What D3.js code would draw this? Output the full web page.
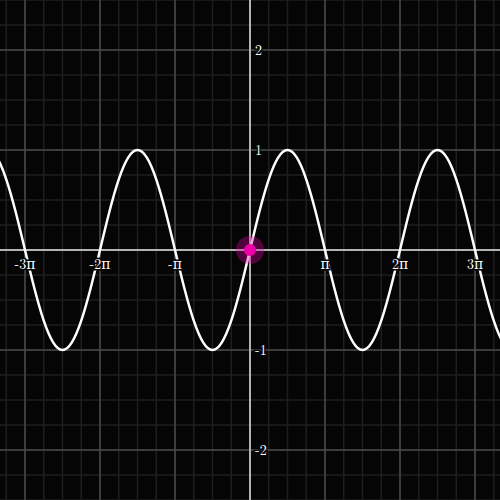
<!DOCTYPE html>
<html><head><meta charset="utf-8">
<script src="https://cdn.jsdelivr.net/npm/d3@7"></script>
<style>html,body{margin:0;padding:0;background:#050505}svg{display:block}</style>
</head><body>
<script>
// Sample points of the curve, x in multiples of π/8 (k = -28 … 28)
const xIndexEighthsPi = [-28,-27,-26,-25,-24,-23,-22,-21,-20,-19,-18,-17,-16,-15,-14,-13,-12,-11,-10,-9,-8,-7,-6,-5,-4,-3,-2,-1,0,1,2,3,4,5,6,7,8,9,10,11,12,13,14,15,16,17,18,19,20,21,22,23,24,25,26,27,28];
const yValues = [
  1,0.924,0.707,0.383,0,-0.383,-0.707,-0.924,-1,-0.924,-0.707,-0.383,0,0.383,0.707,0.924,
  1,0.924,0.707,0.383,0,-0.383,-0.707,-0.924,-1,-0.924,-0.707,-0.383,0,0.383,0.707,0.924,
  1,0.924,0.707,0.383,0,-0.383,-0.707,-0.924,-1,-0.924,-0.707,-0.383,0,0.383,0.707,0.924,
  1,0.924,0.707,0.383,0,-0.383,-0.707,-0.924,-1];
const xTickPi = [-3,-2,-1,1,2,3];
const xTickLabels = ["-3π","-2π","-π","π","2π","3π"];
const yTicks = [-2,-1,1,2];
const yTickLabels = ["-2","-1","1","2"];
const highlightPoint = {x:0, y:0};
</script>
<script>
const W = 500, H = 500, PI = Math.PI;
const xHalf = 250 / 75 * PI;
const x = d3.scaleLinear().domain([-xHalf, xHalf]).range([0, W]);
const y = d3.scaleLinear().domain([-2.5, 2.5]).range([H, 0]);

const svg = d3.select("body").append("svg").attr("width", W).attr("height", H);
svg.append("rect").attr("width", W).attr("height", H).attr("fill", "#050505");

const minorX = d3.range(-14, 15).map(k => k * PI / 4).filter(v => Math.abs(v) <= xHalf);
const majorX = d3.range(-3, 4).map(k => k * PI);
const minorY = d3.range(-10, 11).map(k => k * 0.25);
const majorY = d3.range(-2, 3);

const g = svg.append("g");
g.selectAll(".mx").data(minorX).join("line")
  .attr("x1", d => x(d)).attr("x2", d => x(d)).attr("y1", 0).attr("y2", H)
  .attr("stroke", "#1e1e1e").attr("stroke-width", 1.5);
g.selectAll(".my").data(minorY).join("line")
  .attr("y1", d => y(d)).attr("y2", d => y(d)).attr("x1", 0).attr("x2", W)
  .attr("stroke", "#1e1e1e").attr("stroke-width", 1.5);
g.selectAll(".Mx").data(majorX).join("line")
  .attr("x1", d => x(d)).attr("x2", d => x(d)).attr("y1", 0).attr("y2", H)
  .attr("stroke", "#4a4a4a").attr("stroke-width", 1.5);
g.selectAll(".My").data(majorY).join("line")
  .attr("y1", d => y(d)).attr("y2", d => y(d)).attr("x1", 0).attr("x2", W)
  .attr("stroke", "#4a4a4a").attr("stroke-width", 1.5);

// axes
svg.append("line").attr("x1", 0).attr("x2", W).attr("y1", y(0)).attr("y2", y(0))
  .attr("stroke", "#b4b4b4").attr("stroke-width", 2);
svg.append("line").attr("x1", x(0)).attr("x2", x(0)).attr("y1", 0).attr("y2", H)
  .attr("stroke", "#b4b4b4").attr("stroke-width", 2);

// curve
const pts = xIndexEighthsPi.map((k, i) => [k * PI / 8, yValues[i]]);
const line = d3.line().x(d => x(d[0])).y(d => y(d[1])).curve(d3.curveNatural);
svg.append("path").attr("d", line(pts)).attr("fill", "none")
  .attr("stroke", "#ffffff").attr("stroke-width", 2.5);

// labels
const font = "'Latin Modern Roman','DejaVu Serif','Liberation Serif',serif";
svg.selectAll(".xl").data(xTickPi).join("text")
  .attr("x", d => x(d * PI)).attr("y", y(0) + 19)
  .attr("text-anchor", "middle").attr("font-family", font).attr("font-size", 14)
  .attr("fill", "#ffffff").attr("stroke", "#050505").attr("stroke-width", 3)
  .attr("paint-order", "stroke")
  .text((d, i) => xTickLabels[i]);
svg.selectAll(".yl").data(yTicks).join("text")
  .attr("x", x(0) + 5).attr("y", d => y(d) + 5)
  .attr("text-anchor", "start").attr("font-family", font).attr("font-size", 14)
  .attr("fill", "#ffffff").attr("stroke", "#050505").attr("stroke-width", 3)
  .attr("paint-order", "stroke")
  .text((d, i) => yTickLabels[i]);

// highlighted point
svg.append("circle").attr("cx", x(highlightPoint.x)).attr("cy", y(highlightPoint.y))
  .attr("r", 14).attr("fill", "#e000a0").attr("fill-opacity", 0.35);
svg.append("circle").attr("cx", x(highlightPoint.x)).attr("cy", y(highlightPoint.y))
  .attr("r", 6).attr("fill", "#ee00a8");
</script>
</body></html>
